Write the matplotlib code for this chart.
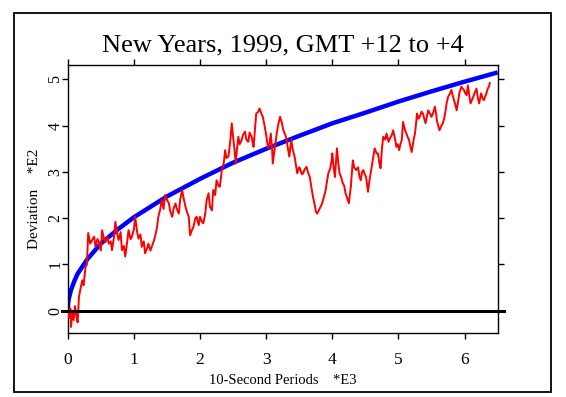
import numpy as np
import matplotlib
matplotlib.use("Agg")
import matplotlib.pyplot as plt
from matplotlib.patches import Rectangle

plt.rcParams['font.family'] = ['Liberation Serif', 'DejaVu Serif']

TITLE = "New Years, 1999, GMT +12 to +4"
XLABEL = "10-Second Periods    *E3"
YLABEL = "Deviation    *E2"

x_ticks = [0, 1, 2, 3, 4, 5, 6]
y_ticks = [0, 1, 2, 3, 4, 5]

# expectation envelope
env_x = [0, 0.01, 0.02, 0.05, 0.1, 0.15, 0.3, 0.5, 0.75, 1.0, 1.5, 2.0, 2.5,
         3.0, 3.5, 4.0, 4.5, 5.0, 5.5, 6.0, 6.5]
env_y = [0, 0.2, 0.28, 0.45, 0.64, 0.8, 1.12, 1.45, 1.75, 2.02, 2.47, 2.85,
         3.2, 3.5, 3.78, 4.05, 4.28, 4.52, 4.74, 4.95, 5.15]

# cumulative deviation trace
dev_x = [0.00, 0.02, 0.04, 0.05, 0.07, 0.09, 0.11, 0.13, 0.15, 0.16, 0.17, 0.19,
         0.22, 0.24, 0.27, 0.29, 0.31, 0.34, 0.37, 0.40, 0.42, 0.45, 0.47, 0.50,
         0.52, 0.55, 0.57, 0.60, 0.62, 0.65, 0.67, 0.70, 0.72, 0.75, 0.77, 0.80,
         0.82, 0.85, 0.87, 0.90, 0.92, 0.95, 0.97, 1.00, 1.02, 1.05, 1.07, 1.10,
         1.12, 1.15, 1.17, 1.20, 1.22, 1.25, 1.27, 1.30, 1.32, 1.35, 1.37, 1.40,
         1.42, 1.45, 1.47, 1.50, 1.53, 1.55, 1.58, 1.60, 1.63, 1.65, 1.68, 1.70,
         1.73, 1.75, 1.78, 1.80, 1.83, 1.85, 1.88, 1.90, 1.93, 1.95, 1.98, 2.00,
         2.03, 2.05, 2.08, 2.10, 2.13, 2.15, 2.18, 2.20, 2.23, 2.25, 2.28, 2.30,
         2.33, 2.36, 2.38, 2.40, 2.43, 2.46, 2.48, 2.50, 2.52, 2.54, 2.56, 2.58,
         2.60, 2.63, 2.65, 2.68, 2.70, 2.73, 2.75, 2.78, 2.80, 2.81, 2.83, 2.85,
         2.88, 2.90, 2.93, 2.95, 2.98, 3.00, 3.03, 3.05, 3.07, 3.09, 3.10, 3.13,
         3.16, 3.18, 3.21, 3.24, 3.26, 3.29, 3.31, 3.33, 3.35, 3.38, 3.40, 3.43,
         3.45, 3.47, 3.50, 3.51, 3.54, 3.56, 3.58, 3.61, 3.63, 3.66, 3.69, 3.71,
         3.74, 3.75, 3.77, 3.79, 3.81, 3.84, 3.86, 3.88, 3.90, 3.92, 3.94, 3.97,
         3.99, 4.00, 4.02, 4.04, 4.06, 4.07, 4.09, 4.11, 4.13, 4.16, 4.18, 4.20,
         4.22, 4.25, 4.28, 4.31, 4.33, 4.36, 4.39, 4.41, 4.43, 4.45, 4.47, 4.49,
         4.51, 4.54, 4.56, 4.58, 4.60, 4.62, 4.64, 4.67, 4.69, 4.71, 4.73, 4.75,
         4.77, 4.80, 4.82, 4.85, 4.87, 4.90, 4.92, 4.95, 4.97, 4.99, 5.01, 5.03,
         5.05, 5.07, 5.10, 5.12, 5.14, 5.16, 5.18, 5.20, 5.23, 5.25, 5.27, 5.28,
         5.30, 5.32, 5.35, 5.37, 5.39, 5.41, 5.43, 5.45, 5.48, 5.50, 5.53, 5.55,
         5.57, 5.58, 5.60, 5.62, 5.65, 5.67, 5.69, 5.71, 5.73, 5.75, 5.78, 5.80,
         5.82, 5.84, 5.86, 5.88, 5.90, 5.92, 5.95, 5.97, 5.99, 6.01, 6.03, 6.05,
         6.07, 6.09, 6.11, 6.13, 6.15, 6.18, 6.20, 6.22, 6.25, 6.27, 6.29, 6.31,
         6.33, 6.35, 6.37, 6.38]
dev_y = [0.00, -0.15, 0.05, -0.35, -0.05, -0.20, 0.10, -0.10, -0.25, 0.00, 0.30, 0.45,
         0.66, 0.55, 0.95, 1.00, 1.68, 1.45, 1.53, 1.60, 1.38, 1.55, 1.49, 1.30,
         1.74, 1.55, 1.49, 1.60, 1.45, 1.50, 1.31, 1.60, 1.92, 1.65, 1.53, 1.70,
         1.31, 1.40, 1.17, 1.50, 1.74, 1.55, 1.60, 1.75, 2.03, 1.70, 1.56, 1.65,
         1.38, 1.50, 1.24, 1.35, 1.45, 1.30, 1.38, 1.50, 1.60, 1.80, 2.03, 2.20,
         2.39, 2.20, 2.50, 2.40, 2.32, 2.15, 2.03, 2.20, 2.32, 2.20, 2.10, 2.40,
         2.61, 2.45, 2.25, 2.15, 2.03, 1.63, 1.75, 1.81, 2.00, 2.03, 1.85, 2.03,
         1.92, 1.89, 2.10, 2.39, 2.54, 2.25, 2.17, 2.61, 2.50, 2.82, 2.70, 2.68,
         3.04, 3.20, 3.47, 3.30, 3.33, 3.70, 4.05, 3.76, 3.50, 3.18, 3.50, 3.76,
         3.60, 3.69, 3.80, 3.87, 3.70, 3.65, 3.85, 3.76, 3.60, 3.54, 3.90, 4.26,
         4.30, 4.37, 4.25, 4.19, 3.97, 3.80, 3.51, 3.60, 3.83, 3.50, 3.18, 3.50,
         3.83, 4.00, 4.19, 4.05, 3.90, 3.80, 3.69, 3.50, 3.33, 3.69, 3.50, 3.33,
         3.15, 2.97, 3.10, 3.08, 2.95, 2.97, 3.05, 3.11, 3.00, 2.89, 2.61, 2.45,
         2.25, 2.15, 2.10, 2.15, 2.21, 2.30, 2.39, 2.50, 2.61, 2.80, 2.97, 3.08,
         3.25, 3.40, 3.10, 2.89, 3.30, 3.51, 3.20, 2.97, 2.90, 2.75, 2.70, 2.54,
         2.46, 2.32, 2.68, 3.25, 3.10, 3.04, 3.10, 2.90, 2.82, 3.00, 3.04, 2.95,
         2.89, 2.57, 2.80, 2.97, 3.15, 3.33, 3.51, 3.40, 3.40, 3.20, 3.08, 3.50,
         3.76, 3.70, 3.83, 3.65, 3.72, 3.80, 3.90, 3.70, 3.54, 3.60, 3.47, 3.60,
         3.69, 4.08, 3.90, 3.83, 3.75, 3.69, 3.55, 3.43, 3.70, 3.83, 4.10, 4.26,
         4.15, 4.19, 4.30, 4.26, 4.15, 4.05, 4.20, 4.33, 4.25, 4.19, 4.30, 4.41,
         4.25, 4.12, 4.00, 3.90, 4.00, 4.05, 4.15, 4.30, 4.50, 4.62, 4.70, 4.77,
         4.65, 4.55, 4.45, 4.33, 4.50, 4.70, 4.84, 4.80, 4.77, 4.70, 4.66, 4.87,
         4.65, 4.48, 4.55, 4.62, 4.70, 4.80, 4.60, 4.48, 4.70, 4.60, 4.55, 4.62,
         4.70, 4.80, 4.85, 4.92]

fig = plt.figure(figsize=(5.66, 3.97), dpi=100)
ax = fig.add_axes([0.1196, 0.1612, 0.7597, 0.6751])

ax.plot(env_x, env_y, color='#0000ff', lw=3.2, solid_capstyle='butt', zorder=2)
ax.plot(dev_x, dev_y, color='#ff0000', lw=1.4, zorder=3)
ax.axhline(0, xmin=-0.013, xmax=1.015, color='black', lw=2.2, clip_on=False, zorder=4)

ax.set_xlim(0, 6.5)
ax.set_ylim(-0.48, 5.31)
ax.set_xticks(x_ticks)
ax.set_yticks(y_ticks)
ax.tick_params(direction='out', length=4, width=1, top=True, right=True)
ax.tick_params(axis='x', pad=10, labelsize=12.5)
ax.tick_params(axis='y', labelrotation=90, pad=-1, labelsize=11.5)
for lbl in ax.get_yticklabels():
    lbl.set_va('center')
for sp in ax.spines.values():
    sp.set_linewidth(1)

ax.set_xlabel(XLABEL, fontsize=10.5)
ax.set_ylabel(YLABEL, fontsize=11)
ax.xaxis.set_label_coords(0.5, -0.153)
ax.yaxis.set_label_coords(-0.062, 0.5)

fig.text(282.7 / 566, 1 - 51 / 397, TITLE, ha='center', va='baseline', fontsize=19)

fig.patches.append(Rectangle((0.0247, 0.0126), 0.9488, 0.954, transform=fig.transFigure,
                             fill=False, lw=1.3, edgecolor='black'))

fig.savefig("out.png", dpi=100)
